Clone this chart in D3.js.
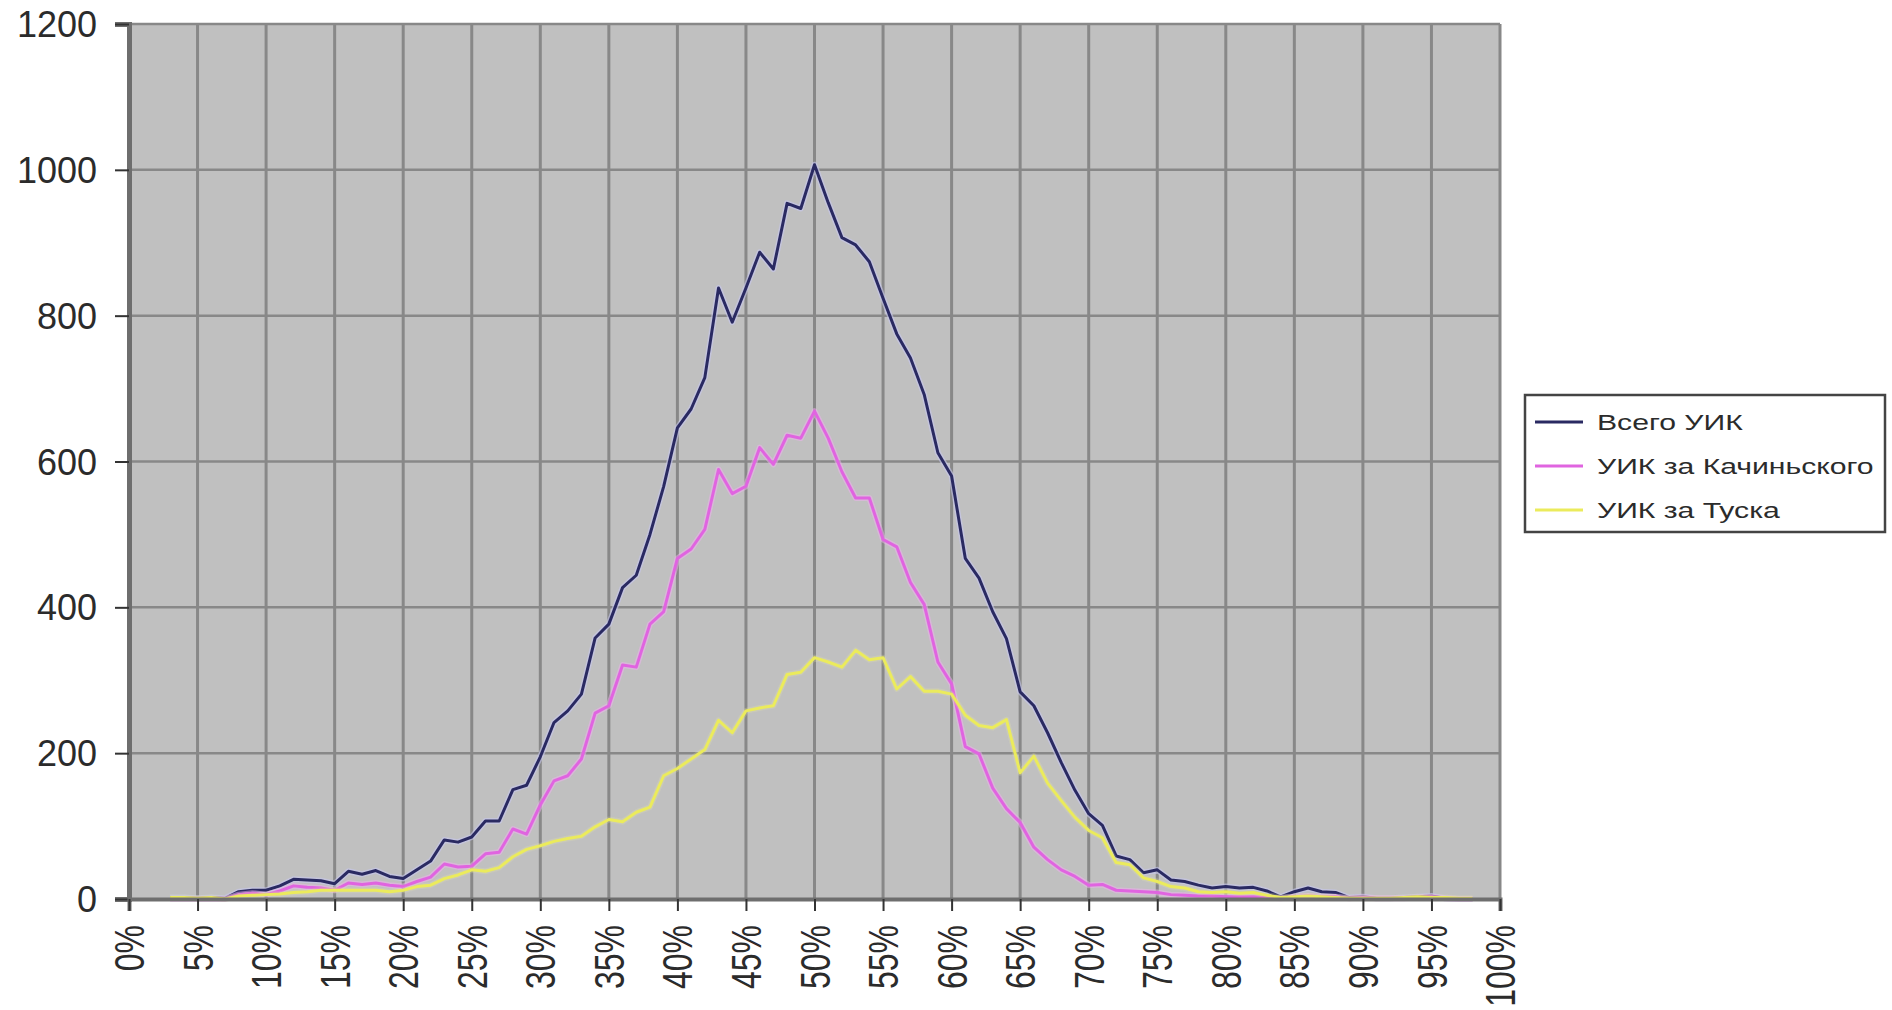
<!DOCTYPE html>
<html>
<head>
<meta charset="utf-8">
<script src="https://cdn.jsdelivr.net/npm/d3@7"></script>
<style>
    body { margin: 0; background: #fff; }
    #chart text { font-family: Arial, "Liberation Sans", sans-serif; fill: #2b2b2b; }
</style>
</head>
<body>
<div id="chart"></div>
<script>
// turnout-like share bins, 1% wide, from 3% to 98%
const bins = d3.range(3, 99)

const allStations = [
    2, 2, 1, 2, 1,
    10, 12, 12, 18, 27,
    26, 25, 21, 38, 34,
    39, 31, 28, 40, 52,
    81, 78, 85, 107, 107,
    150, 156, 195, 242, 258,
    281, 358, 377, 427, 444,
    500, 566, 646, 672, 715,
    838, 791, 838, 887, 864,
    954, 947, 1007, 955, 907,
    897, 874, 824, 775, 742,
    692, 612, 580, 467, 440,
    394, 357, 284, 265, 228,
    187, 149, 117, 101, 59,
    54, 36, 40, 26, 24,
    19, 15, 17, 15, 16,
    11, 3, 10, 15, 10,
    9, 2, 3, 1, 1,
    2, 3, 4, 1, 0,
    0
]

const kaczynskiStations = [
    0, 0, 0, 0, 0,
    6, 8, 6, 11, 18,
    16, 15, 12, 22, 20,
    22, 19, 17, 24, 30,
    48, 44, 45, 62, 64,
    96, 89, 129, 162, 169,
    192, 255, 265, 321, 318,
    377, 394, 467, 480, 507,
    589, 556, 566, 619, 596,
    636, 632, 669, 632, 586,
    550, 550, 493, 483, 434,
    404, 325, 295, 209, 199,
    152, 124, 105, 71, 54,
    40, 31, 19, 20, 12,
    11, 10, 9, 6, 5,
    4, 4, 3, 3, 3,
    2, 1, 3, 4, 3,
    3, 1, 2, 1, 1,
    1, 2, 3, 1, 0,
    0
]

const tuskStations = [
    2, 2, 1, 2, 0,
    4, 5, 6, 7, 9,
    10, 12, 12, 12, 12,
    12, 10, 12, 17, 19,
    28, 33, 40, 38, 43,
    58, 68, 73, 79, 83,
    86, 99, 109, 106, 119,
    126, 169, 179, 192, 205,
    245, 228, 258, 262, 265,
    308, 311, 331, 325, 318,
    341, 328, 331, 288, 305,
    285, 285, 281, 252, 238,
    235, 246, 173, 196, 159,
    135, 112, 94, 84, 50,
    47, 29, 24, 17, 15,
    10, 9, 10, 8, 9,
    5, 2, 3, 4, 3,
    2, 1, 1, 1, 1,
    2, 3, 2, 2, 1,
    1
]

const xTicks = [0, 5, 10, 15, 20, 25, 30, 35, 40, 45, 50, 55, 60, 65, 70, 75, 80, 85, 90, 95, 100]
const yTicks = [0, 200, 400, 600, 800, 1000, 1200]

const seriesNames = ["Всего УИК", "УИК за Качиньского", "УИК за Туска"]
const seriesValues = [allStations, kaczynskiStations, tuskStations]
const seriesColors = ["#2a2a62", "#e064e0", "#ebeb5c"]
const haloColors = ["#c6c6ee", "#f0b0f0", "#e2e2a8"]
const haloOpacity = [0.6, 0.5, 0.25]

const width = 1892
const height = 1010
const plot = {left: 129, right: 1500, top: 24, bottom: 899}

const svg = d3.select("#chart").append("svg")
    .attr("width", width)
    .attr("height", height)

const x = d3.scaleLinear().domain([0, 100]).range([plot.left, plot.right])
const y = d3.scaleLinear().domain([0, 1200]).range([plot.bottom, plot.top])

svg.append("rect")
    .attr("x", plot.left)
    .attr("y", plot.top)
    .attr("width", plot.right - plot.left)
    .attr("height", plot.bottom - plot.top)
    .attr("fill", "#c0c0c0")

// grid
svg.append("g").selectAll("line")
    .data(xTicks.filter(d => d > 0))
    .enter().append("line")
    .attr("x1", d => x(d)).attr("x2", d => x(d))
    .attr("y1", plot.top).attr("y2", plot.bottom)
    .attr("stroke", "#888")
    .attr("stroke-width", 3)

svg.append("g").selectAll("line")
    .data(yTicks.filter(d => d > 0))
    .enter().append("line")
    .attr("x1", plot.left).attr("x2", plot.right)
    .attr("y1", d => y(d)).attr("y2", d => y(d))
    .attr("stroke", "#888")
    .attr("stroke-width", 2.5)

// series
const line = d3.line()
    .x((d, i) => x(bins[i]))
    .y(d => y(d))

seriesValues.forEach((values, i) => {
    svg.append("path")
        .datum(values)
        .attr("fill", "none")
        .attr("stroke", haloColors[i])
        .attr("stroke-opacity", haloOpacity[i])
        .attr("stroke-width", 6)
        .attr("stroke-linejoin", "round")
        .attr("d", line)
    svg.append("path")
        .datum(values)
        .attr("fill", "none")
        .attr("stroke", seriesColors[i])
        .attr("stroke-width", 3)
        .attr("stroke-linejoin", "round")
        .attr("d", line)
})

// axes
const yAxis = svg.append("g")
    .attr("transform", `translate(${plot.left}, 0)`)
    .call(d3.axisLeft(y).tickValues(yTicks).tickSize(14).tickPadding(18).tickFormat(d3.format("d")))

const xAxis = svg.append("g")
    .attr("transform", `translate(0, ${plot.bottom})`)
    .call(d3.axisBottom(x).tickValues(xTicks).tickSize(12).tickFormat(d => d + "%"))

yAxis.select(".domain").attr("stroke", "#6e6e6e").attr("stroke-width", 5)
xAxis.select(".domain").attr("stroke", "#6e6e6e").attr("stroke-width", 4)
svg.selectAll(".tick line").attr("stroke", "#333").attr("stroke-width", 2)

yAxis.selectAll("text")
    .style("font-size", "36px")
    .attr("dy", "0.35em")

xAxis.selectAll("text")
    .style("font-size", "32px")
    .attr("text-anchor", "end")
    .attr("x", 0)
    .attr("y", 0)
    .attr("dy", "0.35em")
    .attr("transform", "translate(0, 26) rotate(-90) scale(1, 1.3)")

// legend
const legend = svg.append("g").attr("transform", "translate(1525, 395)")

legend.append("rect")
    .attr("width", 360)
    .attr("height", 137)
    .attr("fill", "#fff")
    .attr("stroke", "#444")
    .attr("stroke-width", 2.5)

const rows = legend.selectAll(".row")
    .data(seriesNames)
    .enter().append("g")
    .attr("class", "row")
    .attr("transform", (d, i) => `translate(0, ${27 + i * 44})`)

rows.append("line")
    .attr("x1", 10).attr("x2", 58)
    .attr("stroke", (d, i) => seriesColors[i])
    .attr("stroke-width", 3)

rows.append("text")
    .attr("transform", "translate(72, 0) scale(1.37, 1)")
    .attr("dy", "0.35em")
    .style("font-size", "22px")
    .text(d => d)
</script>
</body>
</html>
